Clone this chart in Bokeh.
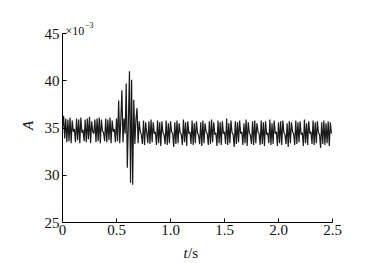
import numpy as np
from bokeh.plotting import figure
from bokeh.models import FixedTicker, Label, ColumnDataSource
from bokeh.embed import file_html
from bokeh.resources import INLINE

t_start = 0.0
t_step = 0.01
amp = [
    35.0, 36.3, 33.9, 36.0, 33.5, 35.9, 33.6, 36.1, 33.4, 35.8,
    34.6, 34.9, 33.5, 36.0, 33.7, 35.9, 33.4, 36.1, 34.5, 34.8,
    33.6, 35.9, 33.5, 36.0, 33.8, 36.2, 33.4, 35.7, 34.6, 34.4,
    35.9, 33.5, 36.0, 33.6, 36.1, 33.4, 35.9, 34.7, 34.5, 33.6,
    36.0, 33.5, 35.9, 33.7, 36.1, 33.4, 35.8, 34.6, 34.9, 33.5,
    36.0, 33.6, 37.9, 33.4, 35.8, 39.0, 33.5, 36.0, 34.4, 39.7,
    30.8, 35.5, 41.0, 29.2, 40.1, 29.0, 38.0, 33.3, 35.9, 37.1,
    33.4, 35.7, 34.6, 34.3, 33.3, 35.8, 33.2, 35.6, 34.5, 33.4,
    35.7, 33.3, 35.9, 33.5, 35.6, 34.4, 34.6, 33.2, 35.8, 33.4,
    35.6, 33.1, 35.7, 34.5, 34.3, 33.3, 35.8, 33.2, 35.5, 33.4,
    35.7, 34.6, 34.4, 33.0, 35.6, 33.3, 35.8, 33.4, 35.5, 34.5,
    34.3, 33.2, 35.9, 33.5, 35.6, 33.1, 35.7, 34.4, 34.6, 33.3,
    35.8, 33.2, 35.5, 33.4, 35.7, 34.5, 34.2, 33.3, 35.6, 33.1,
    35.8, 33.4, 35.5, 34.6, 34.4, 33.2, 35.7, 33.3, 35.9, 33.5,
    35.6, 34.3, 34.5, 33.1, 35.8, 33.4, 35.6, 33.2, 35.7, 34.4,
    34.6, 33.3, 36.0, 33.2, 35.5, 33.4, 35.8, 34.5, 34.3, 33.0,
    35.7, 33.3, 35.6, 33.5, 35.8, 34.4, 34.6, 33.2, 35.5, 33.4,
    35.9, 33.1, 35.6, 34.5, 34.2, 33.3, 35.7, 33.2, 35.8, 33.4,
    35.5, 34.6, 34.4, 33.2, 35.8, 33.3, 35.6, 33.1, 35.7, 34.3,
    34.5, 33.4, 35.9, 33.2, 35.5, 33.3, 35.8, 34.4, 34.6, 33.1,
    35.6, 33.4, 35.7, 33.2, 35.8, 34.5, 34.3, 33.3, 35.5, 33.0,
    35.7, 33.4, 35.6, 34.6, 34.4, 33.2, 35.8, 33.3, 35.6, 33.5,
    35.7, 34.3, 34.5, 33.1, 35.9, 33.4, 35.5, 33.2, 35.7, 34.4,
    34.6, 33.3, 35.8, 33.2, 35.6, 33.4, 35.7, 34.5, 34.3, 32.9,
    35.6, 33.3, 35.8, 33.2, 35.5, 33.4, 35.7, 33.1, 35.6, 34.4,
]
x_ticks = [0, 0.5, 1.0, 1.5, 2.0, 2.5]
x_tick_labels = ["0", "0.5", "1.0", "1.5", "2.0", "2.5"]
y_ticks = [25, 30, 35, 40, 45]
y_tick_labels = ["25", "30", "35", "40", "45"]
x_lim = (0, 2.5)
y_lim = (25, 45)

t = t_start + t_step * np.arange(len(amp))
src = ColumnDataSource(dict(t=t, a=amp))

FONT = "'Liberation Serif', serif"
W, H = 372, 259
# pixel placement of the data box inside the canvas
L, R, T, B = 62, 332, 33, 222
sx = (R - L) / (x_lim[1] - x_lim[0])
sy = (B - T) / (y_lim[1] - y_lim[0])
xr = (x_lim[0] - L / sx, x_lim[0] + (W - L) / sx)
yr = (y_lim[0] - (H - B) / sy, y_lim[1] + T / sy)

p = figure(frame_width=W, frame_height=H,
           min_border_left=0, min_border_right=0, min_border_top=0, min_border_bottom=0,
           x_range=xr, y_range=yr,
           output_backend="svg", toolbar_location=None)
p.outline_line_color = None
p.grid.visible = False
p.background_fill_color = "white"
p.border_fill_color = "white"

p.line("t", "a", source=src, line_color="#1a1a1a", line_width=1.2)

for ax in (p.xaxis, p.yaxis):
    ax.major_tick_in = 4
    ax.major_tick_out = 0
    ax.minor_tick_line_color = None
    ax.axis_line_color = "black"
    ax.major_tick_line_color = "black"
    ax.major_label_text_font = FONT
    ax.major_label_text_font_size = "15px"
    ax.major_label_text_color = "#111111"

p.xaxis.fixed_location = y_lim[0]
p.xaxis.bounds = x_lim
p.yaxis.fixed_location = x_lim[0]
p.yaxis.bounds = y_lim
p.xaxis.ticker = FixedTicker(ticks=x_ticks)
p.xaxis.major_label_overrides = {tk: lb for tk, lb in zip(x_ticks, x_tick_labels)}
p.yaxis.ticker = FixedTicker(ticks=y_ticks)
p.yaxis.major_label_overrides = {tk: lb for tk, lb in zip(y_ticks, y_tick_labels)}
p.xaxis.major_label_standoff = 2
p.yaxis.major_label_standoff = 3

# axis titles
p.add_layout(Label(x=x_lim[0] - 35 / sx, y=y_lim[1] - (125 - T) / sy, text="A", angle=np.pi / 2,
                   text_font=FONT, text_font_style="italic", text_font_size="15px",
                   text_align="center", text_baseline="middle", text_color="#111111"))
tx = x_lim[0] + (183 - L) / sx
ty = y_lim[0] - (252 - B) / sy
p.add_layout(Label(x=tx, y=ty, text="t", text_font=FONT, text_font_style="italic",
                   text_font_size="15px", text_baseline="alphabetic", text_color="#111111"))
p.add_layout(Label(x=tx, y=ty, x_offset=4.5, text="/s", text_font=FONT,
                   text_font_size="15px", text_baseline="alphabetic", text_color="#111111"))
# scale multiplier
mx = x_lim[0] + 3 / sx
my = y_lim[1] + 3 / sy
p.add_layout(Label(x=mx, y=my, text="×10", text_font=FONT, text_font_size="12px",
                   text_baseline="alphabetic", text_color="#111111"))
p.add_layout(Label(x=mx, y=my, x_offset=19.5, y_offset=6, text="−3", text_font=FONT,
                   text_font_size="8px", text_baseline="alphabetic", text_color="#111111"))

open("out.html", "w").write(file_html(p, INLINE))
